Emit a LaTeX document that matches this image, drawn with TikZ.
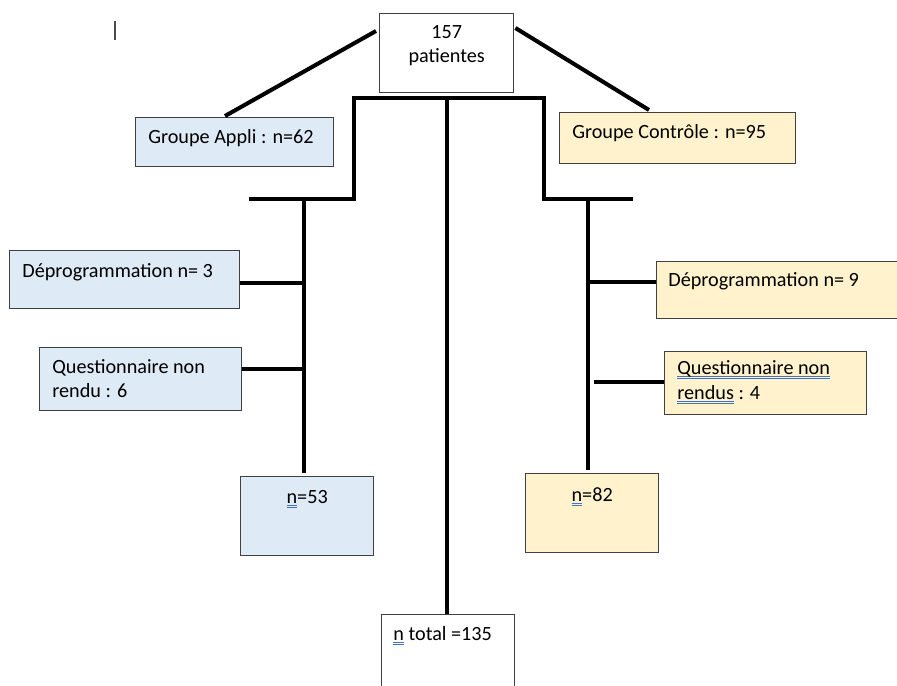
\documentclass[tikz,border=0pt]{standalone}
\usepackage{fontspec}
\setmainfont{Carlito}
\usetikzlibrary{calc}

\definecolor{appliblue}{RGB}{222,234,246}
\definecolor{ctrlyellow}{RGB}{255,242,204}
\definecolor{spellblue}{RGB}{68,114,196}

\newcommand{\txt}{\fontsize{11.5}{14.2}\selectfont}
\newsavebox{\spellbox}
% double soulignement bleu (correcteur)
\newcommand{\spell}[1]{\sbox{\spellbox}{#1}%
  \rlap{\color{spellblue}\rule[-1.6pt]{\wd\spellbox}{0.5pt}}%
  \rlap{\color{spellblue}\rule[-2.8pt]{\wd\spellbox}{0.5pt}}%
  \usebox{\spellbox}}

\tikzset{
  box/.style={draw=black!75, line width=0.8pt, anchor=north west, inner sep=0pt},
  boxsize/.style 2 args={minimum width=#1*0.02cm, minimum height=#2*0.02cm},
  appli/.style={box, fill=appliblue},
  ctrl/.style={box, fill=ctrlyellow},
  plain/.style={box, fill=white},
  pxshift/.style 2 args={xshift=#1*0.02cm, yshift=-#2*0.02cm},
  lbl/.style={font=\txt, inner sep=0pt, align=left, anchor=base west},
  lblc/.style={font=\txt, inner sep=0pt, align=center, anchor=base},
  link/.style={line width=2.3pt},
}

\begin{document}
\begin{tikzpicture}[x=0.02cm, y=-0.02cm]
  \useasboundingbox (0,0) rectangle (897,686);
  \clip (0,0) rectangle (897,686);

  % curseur
  \draw[black!70, line width=0.6pt] (115,21) -- (115,40);

  % boites (base = derniere ligne)
  \node[plain, boxsize={134}{79}, label={[lblc, pxshift={0}{50}]north:{157\\patientes}}] (tot157) at (379,13) {};
  \node[appli, boxsize={198}{49}, label={[lbl, pxshift={13}{27}]north west:{Groupe Appli : n=62}}] (grpA) at (135,117) {};
  \node[ctrl, boxsize={236}{51}, label={[lbl, pxshift={13}{27}]north west:{Groupe Contrôle : n=95}}] (grpC) at (559,112) {};

  \node[appli, boxsize={230}{58}, label={[lbl, pxshift={13}{27}]north west:{Déprogrammation n= 3}}] (depA) at (9,250) {};
  \node[appli, boxsize={202}{63}, label={[lbl, pxshift={13}{51}]north west:{Questionnaire non\\rendu : 6}}] (quesA) at (39,347) {};
  \node[appli, boxsize={133}{79}, label={[lblc, pxshift={0}{27}]north:{\spell{n}=53}}] (resA) at (240,476) {};

  \node[ctrl, boxsize={250}{57}, label={[lbl, pxshift={12}{26}]north west:{Déprogrammation n= 9}}] (depC) at (656,261) {};
  \node[ctrl, boxsize={202}{63}, label={[lbl, pxshift={13}{48}]north west:{\spell{Questionnaire non}\\\spell{rendus} : 4}}] (quesC) at (664,351) {};
  \node[ctrl, boxsize={133}{79}, label={[lblc, pxshift={0}{28}]north:{\spell{n}=82}}] (resC) at (525,473) {};

  \node[plain, boxsize={133}{100}, label={[lbl, pxshift={12}{26}]north west:{\spell{n} total =135}}] (total) at (381,614) {};

  % connecteurs
  \draw[link] ($(tot157.north west)+(-3,18)$) -- ($(grpA.north west)+(90,-1)$);
  \draw[link] ($(tot157.north east)+(1,15)$) -- ($(grpC.north west)+(90,-2)$);

  \coordinate (split) at ($(tot157.south)+(0,5)$);
  \coordinate (armA) at ($(split)+(-143,101)$);
  \coordinate (armC) at ($(split)+(141,101)$);
  \draw[link] ($(armA)+(-55,0)$) -- ++(105,0) |- (split) -| ($(armC)+(-44,0)$) -- ++(89,0);
  \draw[link] (split) -- (split |- total.north);

  \draw[link] (armA) -- ($(armA |- resA.north)+(0,-3)$);
  \draw[link] ($(depA.north east)+(0,33)$) coordinate (d) -- (d -| armA);
  \draw[link] ($(quesA.north east)+(0,22)$) coordinate (q) -- (q -| armA);

  \draw[link] (armC) -- ($(armC |- resC.north)+(0,-3)$);
  \draw[link] ($(depC.north west)+(0,21)$) coordinate (d) -- (d -| armC);
  \draw[link] ($(quesC.north west)+(0,31)$) coordinate (q) -- ($(q -| armC)+(6,0)$);
\end{tikzpicture}
\end{document}
